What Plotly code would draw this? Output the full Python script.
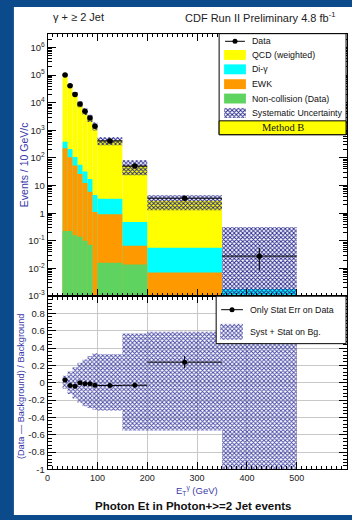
import plotly.graph_objects as go

W, H = 352, 520

# Photon E_T binning (GeV)
bin_lo = [30, 40, 50, 60, 70, 80, 90, 100, 150, 200, 350]
bin_hi = [40, 50, 60, 70, 80, 90, 100, 150, 200, 350, 500]

# Observed events / 10 GeV with statistical errors
data = [1.0e5, 4.1e4, 2.0e4, 9.0e3, 4.9e3, 2.8e3, 1.4e3, 415, 51, 3.5, 0.028]
data_err_up = [300, 200, 140, 90, 64, 48, 28, 8, 1.5, 0.2, 0.028]
data_err_dn = [300, 200, 140, 90, 64, 48, 28, 8, 1.5, 0.2, 0.0195]

# Background components (events / 10 GeV)
qcd = [96600, 42100, 20700, 8940, 4920, 2810, 1435, 425, 52, 2.77, 0]
diphoton = [159, 103, 56, 31, 20, 11.5, 3.5, 2.4, 0.42, 0.049, 0.0013]
ewk = [224, 107, 53, 26, 12.4, 5.9, 1.1, 0.91, 0.052, 0.0072, 0.0005]
noncoll = [0.23, 0.23, 0.16, 0.14, 0.10, 0.072, 0, 0.016, 0.014, 0, 0]

# Relative systematic (+stat) uncertainty on the total background
syst_up = [0.08, 0.13, 0.18, 0.23, 0.27, 0.31, 0.34, 0.33, 0.57, 0.59, 171]
syst_dn = [0.07, 0.13, 0.18, 0.23, 0.27, 0.29, 0.31, 0.32, 0.55, 0.55, 1.0]

# Axis ticks
x_tick_vals = [0, 100, 200, 300, 400, 500, 600]
x_tick_text = ["0", "100", "200", "300", "400", "500", "600"]
y_tick_vals = [1e-3, 1e-2, 1e-1, 1, 10, 1e2, 1e3, 1e4, 1e5, 1e6]
y_tick_text = ["10<sup>-3</sup>", "10<sup>-2</sup>", "10<sup>-1</sup>", "1", "10",
               "10<sup>2</sup>", "10<sup>3</sup>", "10<sup>4</sup>", "10<sup>5</sup>", "10<sup>6</sup>"]
r_tick_vals = [-1, -0.8, -0.6, -0.4, -0.2, 0, 0.2, 0.4, 0.6, 0.8]
r_tick_text = ["-1", "-0.8", "-0.6", "-0.4", "-0.2", "0", "0.2", "0.4", "0.6", "0.8"]

# Colours
C_QCD = "#ffff00"
C_DIPHO = "#00ffff"
C_EWK = "#ff9900"
C_NONCOLL = "#5fd35f"
C_HATCH = "#23238c"
C_HATCH_R = "#4646a6"
C_TITLE = "#3a3aa8"
C_FRAME = "#0b4a8b"

centers = [(a + b) / 2 for a, b in zip(bin_lo, bin_hi)]
widths = [b - a for a, b in zip(bin_lo, bin_hi)]
halfw = [w / 2 for w in widths]

cum_green = list(noncoll)
cum_orange = [g + e for g, e in zip(cum_green, ewk)]
cum_cyan = [o + d for o, d in zip(cum_orange, diphoton)]
total = [c + q for c, q in zip(cum_cyan, qcd)]

ratio = [d / t - 1 for d, t in zip(data, total)]
ratio_err = [e / t for e, t in zip(data_err_up, total)]
# only bins whose ratio falls inside the [-1, 1] window are shown
shown = [i for i, r in enumerate(ratio) if abs(r) < 1]


def nz(v):
    return [x if x > 0 else None for x in v]


def hatch(col, bg="rgba(0,0,0,0)"):
    return dict(shape="x", size=3, solidity=0.5, fgcolor=col, bgcolor=bg, fillmode="replace")


fig = go.Figure()

# ---- upper panel: stacked backgrounds (cumulative, overlaid) ----
for vals, col in [(total, C_QCD), (cum_cyan, C_DIPHO), (cum_orange, C_EWK), (cum_green, C_NONCOLL)]:
    fig.add_trace(go.Bar(x=centers, y=nz(vals), width=widths, marker=dict(color=col, line=dict(width=0)),
                         xaxis="x", yaxis="y", showlegend=False, hoverinfo="skip"))

band_lo = [max(t * (1 - d), 1e-6) for t, d in zip(total, syst_dn)]
band_hi = [t * (1 + u) for t, u in zip(total, syst_up)]
fig.add_trace(go.Bar(x=centers, base=band_lo, y=[h - l for h, l in zip(band_hi, band_lo)], width=widths,
                     marker=dict(color=C_HATCH, line=dict(width=0), pattern=hatch(C_HATCH)),
                     xaxis="x", yaxis="y", showlegend=False, hoverinfo="skip"))

fig.add_trace(go.Scatter(x=centers, y=data, mode="markers",
                         marker=dict(color="black", size=5.5),
                         error_x=dict(type="data", array=halfw, color="black", thickness=1, width=0),
                         error_y=dict(type="data", array=data_err_up, arrayminus=data_err_dn,
                                      color="black", thickness=1, width=0),
                         xaxis="x", yaxis="y", showlegend=False, hoverinfo="skip"))

# ---- lower panel: (data - bkg)/bkg ----
fig.add_trace(go.Bar(x=centers, base=[-d for d in syst_dn], y=[u + d for u, d in zip(syst_up, syst_dn)],
                     width=widths,
                     marker=dict(color=C_HATCH_R, line=dict(width=0), pattern=hatch(C_HATCH_R)),
                     xaxis="x2", yaxis="y2", showlegend=False, hoverinfo="skip"))
fig.add_trace(go.Scatter(x=[centers[i] for i in shown], y=[ratio[i] for i in shown], mode="markers",
                         marker=dict(color="black", size=5),
                         error_x=dict(type="data", array=[halfw[i] for i in shown], color="black",
                                      thickness=1, width=0),
                         error_y=dict(type="data", array=[ratio_err[i] for i in shown], color="black",
                                      thickness=1, width=0),
                         xaxis="x2", yaxis="y2", showlegend=False, hoverinfo="skip"))


# ---- legend boxes, drawn in a pixel-space overlay ----
def rect(x0, x1, y0, y1, fill, line_w=0, pattern=None):
    kw = dict(x=[x0, x1, x1, x0, x0], y=[y0, y0, y1, y1, y0], mode="lines", fill="toself",
              fillcolor=fill, xaxis="x3", yaxis="y3", showlegend=False, hoverinfo="skip")
    kw["line"] = dict(color="black", width=line_w) if line_w else dict(width=0, color="rgba(0,0,0,0)")
    if pattern:
        kw["fillpattern"] = pattern
    fig.add_trace(go.Scatter(**kw))


# upper legend
rect(218, 346, 34, 136, "white", 1)
rect(218, 346, 122, 136, C_QCD, 1)
leg_rows = [("QCD (weighted)", C_QCD, 55.5), ("Di-γ", C_DIPHO, 70), ("EWK", C_EWK, 85),
            ("Non-collision (Data)", C_NONCOLL, 99.5)]
for _, col, yc in leg_rows:
    rect(223, 245, yc - 5, yc + 5, col)
rect(223, 245, 109, 119, "rgba(0,0,0,0)", pattern=hatch(C_HATCH, "white"))
fig.add_trace(go.Scatter(x=[224, 244], y=[41.7, 41.7], mode="lines", line=dict(color="black", width=1),
                         xaxis="x3", yaxis="y3", showlegend=False, hoverinfo="skip"))
fig.add_trace(go.Scatter(x=[234], y=[41.7], mode="markers", marker=dict(color="black", size=5),
                         xaxis="x3", yaxis="y3", showlegend=False, hoverinfo="skip"))

# lower legend
rect(215, 346, 299, 347, "white", 1)
rect(219, 242, 327, 343, "rgba(0,0,0,0)", pattern=hatch(C_HATCH_R, "white"))
fig.add_trace(go.Scatter(x=[220, 242], y=[312.7, 312.7], mode="lines", line=dict(color="black", width=1),
                         xaxis="x3", yaxis="y3", showlegend=False, hoverinfo="skip"))
fig.add_trace(go.Scatter(x=[231], y=[312.7], mode="markers", marker=dict(color="black", size=5),
                         xaxis="x3", yaxis="y3", showlegend=False, hoverinfo="skip"))

SANS = "Liberation Sans, Arial, sans-serif"
annotations = []


def text(x, y, s, size=8.8, color="#111", anchor="left", **kw):
    d = dict(x=x, y=y, xref="x3", yref="y3", text=s, showarrow=False, xanchor=anchor, yanchor="middle",
             font=dict(family=SANS, size=size, color=color))
    d.update(kw)
    annotations.append(d)


text(249, 41.7, "Data")
for label, _, yc in leg_rows:
    text(249, yc, label)
text(249, 114, "Systematic Uncertainty")
annotations.append(dict(x=282, y=129, xref="x3", yref="y3", text="Method B", showarrow=False,
                        xanchor="center", yanchor="middle",
                        font=dict(family="Liberation Serif, Times New Roman, serif", size=10.5, color="#111")))
text(247, 312.7, "Only Stat Err on Data")
text(247, 335, "Syst + Stat on Bg.")

# headers and titles
text(48, 17, "γ + ≥ 2 Jet", size=11, color="#222")
text(338, 17, "CDF Run II Preliminary 4.8 fb<sup>-1</sup>", size=11, color="#222", anchor="right")
text(22, 166, "Events / 10 GeV/c", size=10.5, color=C_TITLE, anchor="center", textangle=-90)
text(18, 390, "(Data — Background) / Background", size=9.2, color=C_TITLE, anchor="center", textangle=-90)
annotations.append(dict(x=300, y=495, xref="x2", yref="y3", text="E<sub>T</sub><sup>γ</sup> (GeV)",
                        showarrow=False, xanchor="center", yanchor="middle",
                        font=dict(family=SANS, size=9.5, color=C_TITLE)))
text(192, 511, "<b>Photon Et in Photon+>=2 Jet events</b>", size=11.5, color="#111", anchor="center")

XDOM = [45 / W, 346.5 / W]
axis_common = dict(showline=True, linecolor="black", linewidth=1, mirror="ticks", ticks="inside",
                   tickcolor="black", zeroline=False)

fig.update_layout(
    width=W, height=H, margin=dict(l=0, r=0, t=0, b=0),
    paper_bgcolor=C_FRAME, plot_bgcolor="rgba(0,0,0,0)",
    barmode="overlay", showlegend=False,
    font=dict(family=SANS, color="#222"),
    shapes=[dict(type="rect", xref="paper", yref="paper", x0=11 / W, x1=1, y0=0, y1=1 - 7 / H,
                 fillcolor="white", line=dict(width=0), layer="below")],
    annotations=annotations,
    xaxis=dict(domain=XDOM, range=[0, 600], anchor="y", showticklabels=False, tickmode="array",
               tickvals=x_tick_vals, ticklen=7, showgrid=False,
               minor=dict(dtick=10, tick0=0, ticks="inside", ticklen=3.5, tickcolor="black", showgrid=False),
               **axis_common),
    yaxis=dict(domain=[1 - 299 / H, 1 - 34 / H], type="log", range=[-3, 6.5], anchor="x",
               tickmode="array", tickvals=y_tick_vals, ticktext=y_tick_text, ticklen=8, showgrid=False,
               tickfont=dict(size=9.5, color="#222"),
               minor=dict(tickmode="array", tickvals=[m * 10 ** k for k in range(-3, 7) for m in range(2, 10)],
                          ticks="inside", ticklen=4, tickcolor="black", showgrid=False),
               **axis_common),
    xaxis2=dict(domain=XDOM, range=[0, 600], anchor="y2", tickmode="array", tickvals=x_tick_vals,
                ticktext=x_tick_text, ticklen=7, showgrid=True, gridcolor="#c8c8c8", gridwidth=1,
                tickfont=dict(size=9, color="#222"),
                minor=dict(dtick=10, tick0=0, ticks="inside", ticklen=3.5, tickcolor="black", showgrid=False),
                **axis_common),
    yaxis2=dict(domain=[1 - 474 / H, 1 - 299 / H], range=[-1, 1], anchor="x2", tickmode="array",
                tickvals=r_tick_vals, ticktext=r_tick_text, ticklen=8, showgrid=True, gridcolor="#c8c8c8",
                gridwidth=1, tickfont=dict(size=9.5, color="#222"),
                minor=dict(dtick=0.04, tick0=0, ticks="inside", ticklen=4, tickcolor="black", showgrid=False),
                **axis_common),
    xaxis3=dict(domain=[0, 1], range=[0, W], anchor="y3", visible=False, fixedrange=True),
    yaxis3=dict(domain=[0, 1], range=[H, 0], anchor="x3", visible=False, fixedrange=True),
)

fig.write_html("out.html")
